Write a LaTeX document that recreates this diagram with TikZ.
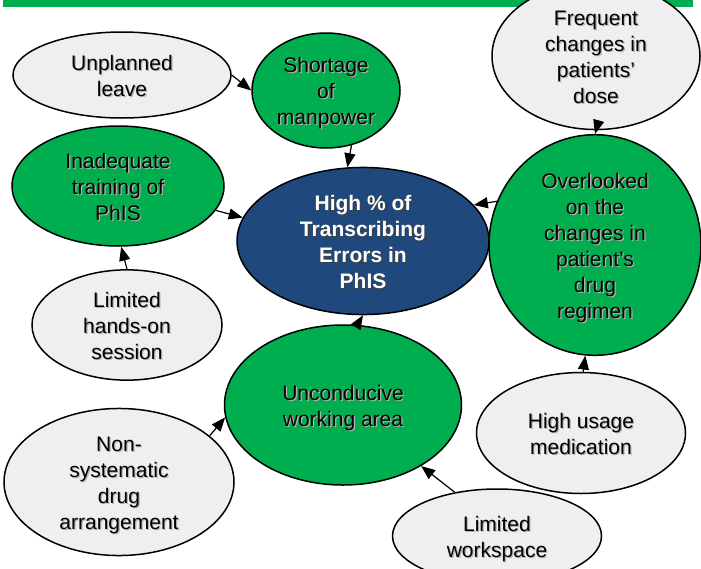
\documentclass[tikz,border=0pt]{standalone}
\usepackage{fontspec}
\setmainfont{Liberation Sans}
\usetikzlibrary{shapes.geometric,arrows.meta}

\definecolor{causegreen}{HTML}{00AE4F}
\definecolor{causegrey}{HTML}{EFEFEF}
\definecolor{effectblue}{HTML}{1F497D}
\colorlet{textshadow}{black!30}

% centred lines of text with a soft drop shadow behind them
\newcommand\shadowtext[1]{%
  \raisebox{-3pt}[\height][\depth]{%
  \rlap{\kern1.2pt\raisebox{-1.2pt}{\smash{\color{textshadow}%
    \begin{tabular}{@{}c@{}}#1\end{tabular}}}}%
  \begin{tabular}{@{}c@{}}#1\end{tabular}}}

\tikzset{
  bubble/.style={ellipse, draw=black, line width=1.5pt, inner sep=0pt,
    align=center, font=\fontsize{21}{26}\selectfont},
  rootcause/.style={bubble, fill=causegrey},
  maincause/.style={bubble, fill=causegreen},
  problem/.style={bubble, fill=effectblue, text=white,
    font=\fontsize{21}{26}\selectfont\bfseries\colorlet{textshadow}{black!75}},
  link/.style={line width=1.2pt, -{Triangle[length=14pt,width=11pt]}},
}

\begin{document}
\begin{tikzpicture}[x=1pt, y=-1pt]
\useasboundingbox (0,0) rectangle (701,568);

% heading strip
\fill[causegreen] (3,0) rectangle (693,7);

% central problem
\node[problem, minimum width=252pt, minimum height=128pt] (err) at (363,241)
  {\shadowtext{High \% of\\Transcribing\\Errors in\\PhIS}};

% contributing causes
\node[maincause, minimum width=148pt, minimum height=115pt] (man) at (326,90.5)
  {\shadowtext{Shortage\\of\\manpower}};
\node[maincause, minimum width=212pt, minimum height=120pt] (train) at (118,186)
  {\shadowtext{Inadequate\\training of\\PhIS}};
\node[maincause, minimum width=212pt, minimum height=204pt] (over) at (595,245)
  {\shadowtext{Overlooked\\on the\\changes in\\patient’s\\drug\\regimen}};
\node[maincause, minimum width=237pt, minimum height=160pt] (area) at (343,405)
  {\shadowtext{Unconducive\\working area}};

% root causes
\node[rootcause, minimum width=218pt, minimum height=86pt] (leave) at (122,75)
  {\shadowtext{Unplanned\\leave}};
\node[rootcause, minimum width=208pt, minimum height=118pt] (dose) at (596,56)
  {\shadowtext{Frequent\\changes in\\patients’\\dose}};
\node[rootcause, minimum width=190pt, minimum height=94pt] (hands) at (127,325)
  {\shadowtext{Limited\\hands-on\\session}};
\node[rootcause, minimum width=209pt, minimum height=121pt] (usage) at (581,433)
  {\shadowtext{High usage\\medication}};
\node[rootcause, minimum width=230pt, minimum height=136pt] (drug) at (119,482)
  {\shadowtext{Non-\\systematic\\drug\\arrangement}};
\node[rootcause, minimum width=209pt, minimum height=94pt] (space) at (497,536)
  {\shadowtext{Limited\\workspace}};

% cause-and-effect links
\draw[link] (leave.east) -- (man.west);
\draw[link] (man.-65) -- (err.102);
\draw[link] (train.-14) -- (err.169);
\draw[link] (hands.north) -- (train.-87);
\draw[link] (dose.south) -- (over.north);
\draw[link] (over.156) -- (err.18);
\draw[link] (usage.88) -- (over.-95);
\draw[link] (area.80) -- (err.-90);
\draw[link] (drug.27) -- (area.186);
\draw[link] (space.134) -- (area.-38);
\end{tikzpicture}
\end{document}
